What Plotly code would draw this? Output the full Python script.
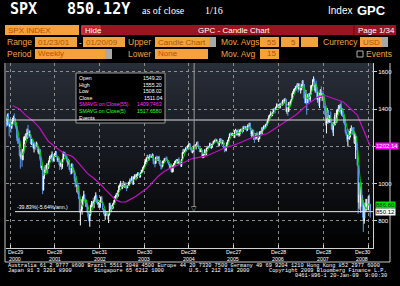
import plotly.graph_objects as go
import pandas as pd

W, H = 400, 286

# ---------------- DATA (weekly SPX) ----------------
# closes Jan 7 2000 .. Nov 24 2000 (only feed the moving averages)
hist_close = [1441.5,1465.2,1441.4,1360.2,1424.4,1387.1,1346.1,1333.4,1409.2,1395.1,1464.5,1527.5,1498.6,1516.4,1356.6,1434.5,1452.4,1432.6,1420.9,1406.9,1378.0,1477.3,1456.9,1464.5,1441.5,1454.6,1478.9,1509.9,1480.2,1419.9,1462.9,1471.8,1491.7,1506.5,1520.8,1494.5,1465.8,1449.1,1436.5,1408.9,1374.2,1396.9,1379.6,1426.7,1365.9,1367.7,1341.8]

# weekly bars Dec 1 2000 .. Jan 16 2009
close = [
 1315.2,1369.9,1312.2,1305.9,1320.3,1298.4,1318.6,1342.5,
 1354.9,1349.5,1314.8,1301.5,1245.9,1234.2,1233.4,1150.5,1139.8,1160.3,1128.4,1183.5,1243.0,1253.1,1266.6,1245.7,1292.0,1277.9,1260.7,1265.0,1214.4,1225.4,1224.4,1190.6,1215.7,1210.9,1205.8,1214.4,1190.2,1162.0,1184.9,1133.6,1085.8,1092.5,965.8,1040.9,1071.4,1091.7,1073.5,1104.6,1087.2,1120.3,1138.7,1150.3,1139.5,1158.3,1123.1,1144.9,1161.0,
 1172.5,1145.6,1127.6,1133.3,1122.2,1096.2,1104.2,1089.8,1131.8,1164.3,1166.2,1148.7,1147.4,1122.7,1111.0,1125.2,1076.3,1073.4,1055.0,1106.6,1083.8,1067.1,1027.5,1007.3,989.1,989.8,989.0,921.4,847.8,852.8,864.2,908.6,928.8,940.9,916.1,893.9,889.8,845.4,827.4,800.6,835.3,884.4,897.7,901.0,894.7,909.8,930.6,936.3,912.2,889.5,895.8,875.4,
 908.6,927.6,901.8,861.4,855.7,829.7,834.9,851.2,841.2,828.9,833.3,895.8,863.5,878.9,868.3,893.6,898.8,930.1,933.4,946.7,933.2,963.6,987.8,988.6,995.7,976.2,985.7,998.1,993.3,998.7,980.2,977.6,990.7,993.1,1008.0,1021.4,1018.6,1036.3,996.9,1029.9,1038.7,1039.3,1028.9,1050.7,1053.2,1050.4,1035.3,1058.2,1061.5,1074.1,1088.7,1095.9,
 1108.5,1121.9,1139.8,1141.6,1131.1,1142.8,1145.8,1144.1,1144.9,1156.9,1120.6,1109.8,1108.1,1141.8,1139.3,1134.6,1140.6,1107.3,1098.7,1095.7,1093.6,1120.7,1122.5,1136.5,1135.0,1134.4,1125.4,1112.8,1101.4,1086.2,1101.7,1064.0,1064.8,1098.4,1107.8,1113.6,1123.9,1128.6,1110.1,1131.5,1122.1,1108.2,1095.7,1130.2,1166.2,1184.2,1170.3,1182.7,1191.2,1188.0,1194.2,1210.1,1211.9,
 1186.2,1184.5,1167.9,1171.4,1203.0,1205.3,1201.6,1211.4,1222.1,1200.1,1189.7,1171.4,1172.9,1181.2,1142.6,1152.1,1156.9,1178.8,1154.1,1189.3,1198.8,1196.0,1198.1,1217.0,1191.6,1211.9,1211.9,1227.9,1229.0,1234.2,1226.4,1230.4,1219.7,1205.1,1218.0,1241.5,1237.9,1215.3,1228.8,1195.9,1186.6,1179.6,1198.4,1220.1,1234.7,1248.3,1268.3,1265.1,1259.4,1267.3,1268.7,1248.3,
 1285.5,1287.6,1261.5,1283.7,1264.0,1267.0,1287.2,1289.4,1287.2,1281.4,1307.3,1303.0,1294.8,1295.5,1288.1,1311.3,1310.6,1325.8,1291.2,1267.0,1280.2,1288.2,1252.3,1251.5,1244.5,1270.2,1265.5,1236.2,1240.3,1278.6,1279.4,1266.7,1302.3,1295.1,1311.0,1298.9,1319.7,1314.8,1335.9,1349.6,1365.6,1368.6,1377.3,1364.3,1380.9,1401.2,1401.0,1396.7,1409.8,1427.1,1410.8,1418.3,
 1409.7,1430.7,1430.5,1422.2,1448.4,1438.1,1455.5,1451.2,1387.2,1402.8,1387.0,1436.1,1420.9,1443.8,1452.9,1484.4,1494.1,1505.6,1505.9,1522.8,1515.7,1536.3,1507.7,1532.9,1502.6,1503.4,1530.4,1552.5,1534.1,1459.0,1433.1,1453.6,1445.9,1479.4,1474.0,1453.6,1484.3,1525.8,1526.8,1557.6,1561.8,1500.6,1535.3,1509.7,1453.7,1458.7,1440.7,1481.1,1504.7,1468.0,1484.5,1478.5,
 1411.6,1401.0,1325.2,1330.6,1395.4,1331.3,1350.0,1353.1,1330.6,1293.4,1288.1,1329.5,1315.2,1370.4,1332.8,1390.3,1397.8,1413.9,1388.3,1425.4,1375.9,1400.4,1360.7,1360.0,1317.9,1278.4,1262.9,1239.5,1260.7,1257.8,1260.3,1296.3,1298.2,1292.2,1282.8,1242.3,1251.7,1255.1,1213.3,1099.2,899.2,940.6,876.8,968.8,931.0,873.3,800.0,896.2,876.1,879.7,887.9,872.8,
 931.8,890.4,850.12]

high = [
 1355,1376,1380,1321,1335,1347,1333,1354,
 1365,1377,1351,1331,1307,1263,1248,1237,1172,1183,1169,1187,1253,1254,1269,1273,1296,1316,1280,1286,1265,1240,1236,1237,1218,1226,1214,1226,1218,1199,1187,1186,1140,1096,1093,1041,1075,1100,1097,1111,1105,1125,1149,1152,1158,1173,1159,1149,1164,
 1176,1174,1148,1141,1139,1124,1120,1109,1132,1173,1168,1172,1154,1148,1124,1133,1127,1084,1088,1107,1107,1086,1070,1035,1040,992,993,996,930,853,917,913,935,962,945,918,912,892,856,852,836,885,907,904,925,910,935,954,941,916,902,898,
 912,932,935,905,868,865,836,853,853,844,834,896,895,885,887,894,912,931,940,951,947,966,991,1002,1015,995,993,1015,1010,1000,1009,986,993,1011,1009,1029,1030,1040,1040,1039,1049,1051,1045,1054,1062,1063,1052,1061,1075,1075,1090,1097,
 1118,1131,1140,1155,1155,1143,1159,1158,1150,1163,1159,1126,1113,1145,1151,1148,1146,1150,1128,1099,1105,1123,1124,1137,1137,1146,1145,1126,1119,1108,1104,1108,1079,1101,1110,1122,1125,1131,1130,1133,1143,1125,1115,1131,1170,1185,1188,1183,1198,1194,1206,1211,1218,
 1217,1195,1195,1178,1203,1209,1212,1212,1225,1229,1206,1192,1189,1191,1182,1160,1162,1186,1180,1192,1199,1205,1201,1220,1219,1212,1212,1229,1233,1238,1245,1238,1236,1222,1228,1243,1243,1238,1234,1233,1199,1198,1199,1225,1235,1249,1269,1275,1272,1275,1272,1272,
 1287,1295,1290,1287,1295,1275,1292,1295,1297,1290,1310,1312,1310,1310,1300,1318,1316,1326,1326,1300,1286,1290,1288,1258,1261,1272,1280,1274,1245,1280,1284,1283,1302,1305,1312,1315,1321,1328,1340,1352,1366,1372,1389,1381,1384,1403,1407,1407,1415,1431,1429,1427,
 1429,1432,1437,1441,1449,1453,1457,1461,1456,1410,1410,1438,1437,1446,1453,1485,1498,1510,1514,1523,1530,1540,1540,1538,1540,1515,1534,1555,1556,1535,1488,1504,1455,1481,1486,1487,1489,1530,1531,1560,1576,1564,1536,1553,1520,1492,1462,1488,1508,1523,1485,1499,
 1478,1417,1420,1350,1406,1396,1368,1368,1388,1335,1321,1331,1359,1380,1375,1396,1400,1422,1416,1426,1441,1405,1405,1370,1370,1336,1292,1274,1263,1292,1283,1297,1313,1300,1304,1304,1274,1265,1256,1214,1100,1007,985,984,1007,940,912,897,896,919,918,895,
 934,943,891]

low = [
 1305,1313,1310,1254,1305,1274,1295,1318,
 1335,1343,1309,1294,1228,1214,1216,1148,1081,1132,1091,1126,1163,1214,1232,1240,1240,1271,1245,1253,1212,1208,1203,1188,1168,1193,1182,1200,1169,1160,1157,1124,1083,1073,944,963,1026,1057,1063,1060,1054,1080,1114,1133,1125,1136,1115,1120,1143,
 1144,1144,1117,1118,1101,1074,1091,1074,1080,1131,1150,1145,1134,1119,1092,1102,1076,1063,1048,1054,1078,1061,1012,981,986,953,944,917,846,776,848,834,893,918,910,875,874,843,817,798,769,828,873,876,882,869,903,927,896,887,871,873,
 869,900,898,860,837,826,806,828,826,807,789,830,858,847,859,864,886,898,920,925,920,930,963,982,986,971,971,984,978,977,974,960,976,988,989,1008,1009,1015,996,996,1024,1032,1018,1029,1046,1045,1031,1035,1056,1059,1066,1085,
 1095,1106,1115,1137,1122,1124,1140,1140,1138,1140,1105,1104,1088,1108,1138,1122,1122,1107,1096,1076,1080,1088,1105,1120,1124,1130,1123,1110,1100,1083,1078,1062,1060,1062,1094,1101,1110,1120,1107,1108,1121,1101,1091,1090,1127,1160,1170,1167,1172,1173,1186,1192,1204,
 1182,1174,1167,1163,1171,1198,1197,1184,1198,1199,1187,1170,1170,1172,1142,1137,1139,1156,1147,1154,1186,1190,1192,1198,1191,1188,1194,1211,1218,1226,1223,1223,1217,1204,1201,1218,1225,1205,1214,1190,1169,1176,1173,1198,1218,1230,1248,1258,1256,1257,1257,1248,
 1245,1283,1259,1260,1262,1253,1257,1285,1277,1270,1280,1298,1292,1291,1280,1284,1298,1304,1290,1256,1245,1257,1235,1219,1235,1238,1260,1235,1224,1240,1266,1262,1266,1290,1290,1294,1298,1310,1314,1331,1349,1360,1366,1360,1364,1377,1394,1377,1396,1408,1409,1406,
 1403,1404,1424,1416,1420,1437,1431,1448,1387,1374,1364,1386,1410,1419,1433,1452,1480,1482,1490,1499,1500,1514,1490,1505,1502,1484,1503,1517,1525,1458,1433,1432,1370,1432,1432,1452,1440,1478,1512,1523,1548,1500,1489,1492,1450,1435,1417,1406,1460,1462,1445,1476,
 1411,1370,1313,1270,1323,1321,1330,1326,1330,1290,1274,1256,1312,1314,1330,1325,1370,1387,1383,1386,1373,1364,1360,1326,1316,1272,1257,1225,1200,1249,1236,1248,1282,1262,1265,1217,1213,1133,1180,1097,839,866,859,845,900,818,741,785,815,850,856,858,
 857,885,818]

first_date = '2000-12-01'
start_level = 1342.0          # horizontal reference line
last_price = 850.12
sma55_tag = 1202.14
event_date = '2005-02-09'
xtick_dates = ['2000-12-29','2001-12-28','2002-12-31','2003-12-30','2004-12-28',
               '2005-12-27','2006-12-28','2007-12-28','2008-12-30']
xtick_day = ['Dec29','Dec28','Dec31','Dec30','Dec28','Dec27','Dec28','Dec28','Dec30']
xtick_year = ['2000','2001','2002','2003','2004','2005','2006','2007','2008']
ytick_vals = [800, 1000, 1200, 1400, 1600]
ytick_text = ['800', '1000', '', '1400', '1600']
legend_rows = [('Open', '1549.20', '#ffffff'), ('High', '1555.20', '#ffffff'),
               ('Low', '1508.02', '#ffffff'), ('Close', '1511.04', '#ffffff'),
               ('SMAVG on Close(55)', '1409.7463', '#ff30ff'),
               ('SMAVG on Close(5)', '1517.6580', '#30ff30'), ('Events', '', '#ffffff')]

assert len(close) == len(high) == len(low), (len(close), len(high), len(low))

dates = pd.date_range(first_date, periods=len(close), freq='W-FRI')
opens = [hist_close[-1]] + close[:-1]
full = pd.Series(hist_close + close)
n0 = len(hist_close)
sma55 = full.rolling(55).mean().iloc[n0:].values
sma5 = full.rolling(5).mean().iloc[n0:].values

def px(x): return x / W
def py(y): return 1 - y / H

shapes, ann = [], []

def rect(x0, y0, x1, y1, fill, line=None, layer='above', lw=1):
    shapes.append(dict(type='rect', xref='paper', yref='paper', x0=px(x0), x1=px(x1),
                       y0=py(y1), y1=py(y0), fillcolor=fill, layer=layer,
                       line=dict(width=lw if line else 0, color=line or fill)))

def hline(x0, x1, y, color, lw=1):
    shapes.append(dict(type='line', xref='paper', yref='paper', x0=px(x0), x1=px(x1),
                       y0=py(y), y1=py(y), line=dict(color=color, width=lw)))

def vline(x, y0, y1, color, lw=1):
    shapes.append(dict(type='line', xref='paper', yref='paper', x0=px(x), x1=px(x),
                       y0=py(y0), y1=py(y1), line=dict(color=color, width=lw)))

def txt(x, y, s, size, color, family='Liberation Sans', anchor='left'):
    ann.append(dict(x=px(x), y=py(y), xref='paper', yref='paper', text=s, showarrow=False,
                    xanchor=anchor, yanchor='middle', borderpad=0,
                    font=dict(size=size, color=color, family=family)))

ORANGE = '#f4a23a'
BOXTXT = '#b35400'
LBL = '#f0a040'
GRAYBTN = '#a8a8a8'

# ---- plot background gradient (slate to black) ----
top, bot = 63, 248
nb = 30
for i in range(nb):
    y0 = top + (bot - top) * i / nb
    y1 = top + (bot - top) * (i + 1) / nb
    f = i / (nb - 1)
    c = (int(40 * (1 - f) + 2 * f), int(46 * (1 - f) + 2 * f), int(56 * (1 - f) + 3 * f))
    rect(6, y0, 373, y1 + 0.5, 'rgb(%d,%d,%d)' % c, layer='below')

# ---- header ----
txt(9, 9, '<b>SPX</b>', 15, '#ffffff', 'DejaVu Sans Mono')
txt(66, 9, '<b>850.12Y</b>', 15, '#ffffff', 'DejaVu Sans Mono')
txt(141, 10, 'as of close', 10, '#ffffff', 'Liberation Serif')
txt(204, 10, '1/16', 10, '#ffffff', 'Liberation Serif')
txt(327, 10, 'Index', 10, '#ffffff', 'Liberation Sans')
txt(356, 10, '<b>GPC</b>', 13, '#ffffff', 'Liberation Sans')

# row 2
rect(5, 25, 79, 35, ORANGE)
txt(7, 30, 'SPX INDEX', 8, BOXTXT)
rect(81, 25, 396, 35, '#9c1422')
rect(82, 26, 100, 34, '#c4202e', '#e04050')
txt(84, 30, 'Hide', 8, '#ffffff')
txt(197, 30, 'GPC - Candle Chart', 8, '#ffffff')
vline(354, 25, 35, '#5a0a12')
txt(357, 30, 'Page 1/34', 8, '#ffffff')

# row 3
txt(6, 42, 'Range', 8.5, LBL)
rect(35, 37, 77, 47, ORANGE); txt(37, 42, '01/23/01', 8, BOXTXT)
txt(78, 42, '-', 8, '#ffffff')
rect(83, 37, 125, 47, ORANGE); txt(85, 42, '01/20/09', 8, BOXTXT)
txt(127, 42, 'Upper', 8.5, LBL)
rect(155, 37, 209, 47, ORANGE); txt(157, 42, 'Candle Chart', 8, BOXTXT)
rect(209, 37, 216, 47, GRAYBTN)
txt(220, 42, 'Mov. Avgs', 8.5, LBL)
rect(260, 37, 279, 47, ORANGE); txt(277, 42, '55', 8, BOXTXT, anchor='right')
rect(281, 37, 299, 47, ORANGE); txt(297, 42, '5', 8, BOXTXT, anchor='right')
rect(301, 37, 318, 47, ORANGE)
txt(322, 42, 'Currency', 8.5, LBL)
rect(360, 37, 382, 47, ORANGE); txt(362, 42, 'USD', 8, BOXTXT)
rect(382, 37, 388, 47, GRAYBTN)

# row 4
txt(6, 54, 'Period', 8.5, LBL)
rect(35, 49, 105, 59, ORANGE); txt(37, 54, 'Weekly', 8, BOXTXT)
rect(105, 49, 112, 59, GRAYBTN)
txt(127, 54, 'Lower', 8.5, LBL)
rect(155, 49, 208, 59, ORANGE); txt(157, 54, 'None', 8, BOXTXT)
txt(220, 54, 'Mov. Avg', 8.5, LBL)
rect(260, 49, 279, 59, ORANGE); txt(277, 54, '15', 8, BOXTXT, anchor='right')
rect(357, 51, 363, 57, '#000000', '#b0b0b0')
txt(365, 54, 'Events', 8.5, LBL)

# ---- frame lines ----
vline(5, 63, 262, '#c8c8c8')
hline(5, 390, 262, '#c8c8c8')
vline(390, 63, 262, '#c8c8c8')

# ---- legend box ----
rect(76, 73, 165, 123, '#000000', '#9a9a9a')
for i, (lab, val, col) in enumerate(legend_rows):
    yy = 78 + i * 6.6
    txt(78, yy, lab, 5.2, col)
    if val:
        txt(163, yy, val, 5.2, col, anchor='right')

# ---- data-space lines ----
shapes.append(dict(type='line', xref='paper', yref='y', x0=px(6), x1=px(373),
                   y0=start_level, y1=start_level, line=dict(color='#d8d8d8', width=1)))
shapes.append(dict(type='line', xref='paper', yref='y', x0=px(15), x1=px(373),
                   y0=last_price, y1=last_price, line=dict(color='#e8e8e8', width=1)))
shapes.append(dict(type='line', xref='x', yref='paper', x0=event_date, x1=event_date,
                   y0=py(207), y1=py(63), line=dict(color='#9a9a9a', width=1)))
ann.append(dict(x=event_date, y=py(208), xref='x', yref='paper', text='\u25bd', showarrow=False,
                font=dict(size=7, color='#c0c0c0'), yanchor='middle'))
ann.append(dict(x=px(15), y=last_price, xref='paper', yref='y', text='-39.83%(-5.64%/ann.)',
                showarrow=False, xanchor='left', yanchor='bottom', yshift=0,
                font=dict(size=5.2, color='#ffffff', family='Liberation Sans')))

# date labels under the axis (two rows)
for i, (d, a, b) in enumerate(zip(xtick_dates, xtick_day, xtick_year)):
    sh = 5 if i == 0 else (-6 if i == len(xtick_dates) - 1 else 0)
    for yy, s in ((251.5, a), (258.5, b)):
        ann.append(dict(x=d, y=py(yy), xref='x', yref='paper', text=s, showarrow=False,
                        xanchor='center', yanchor='middle', xshift=sh, borderpad=0,
                        font=dict(size=5.3, color='#ffffff', family='Liberation Sans')))

# right tags
def tag(val, text, bg, fg):
    ann.append(dict(x=px(375), y=val, xref='paper', yref='y', text=text, showarrow=False,
                    xanchor='left', yanchor='middle', bgcolor=bg, borderpad=0,
                    font=dict(size=6, color=fg, family='Liberation Sans')))
tag(sma55_tag, '%.2f' % sma55_tag, '#ff00ff', '#ffffff')
tag(sma5[-1], '%.2f' % sma5[-1], '#00dd00', '#003300')
tag(last_price, '%.2f' % last_price, '#ffffff', '#000000')

# ---- footer ----
FF = 'Liberation Mono'
FS = 5.3
txt(7, 265.5, 'Australia 61 2 9777 8600 Brazil 5511 3048 4500 Europe 44 20 7330 7500 Germany 49 69 9204 1210 Hong Kong 852 2977 6000', FS, '#ffffff', FF)
txt(7, 270.8, 'Japan 81 3 3201 8900', FS, '#ffffff', FF)
txt(93, 270.8, 'Singapore 65 6212 1000', FS, '#ffffff', FF)
txt(188, 270.8, 'U.S. 1 212 318 2000', FS, '#ffffff', FF)
txt(388, 270.8, 'Copyright 2009 Bloomberg Finance L.P.', FS, '#ffffff', FF, anchor='right')
txt(388, 276, '0461-896-1 20-Jan-09  9:00:30', FS, '#ffffff', FF, anchor='right')

fig = go.Figure()
fig.add_trace(go.Candlestick(
    x=dates, open=opens, high=high, low=low, close=close,
    increasing=dict(line=dict(color='#ffffff', width=1), fillcolor='#ffffff'),
    decreasing=dict(line=dict(color='#5a9cf0', width=1), fillcolor='#5a9cf0'),
    whiskerwidth=0, hoverinfo='skip', showlegend=False))
fig.add_trace(go.Scatter(x=dates, y=sma5, mode='lines', line=dict(color='#00d000', width=1),
                         hoverinfo='skip', showlegend=False))
fig.add_trace(go.Scatter(x=dates, y=sma55, mode='lines', line=dict(color='#c010c0', width=1.2),
                         hoverinfo='skip', showlegend=False))

fig.update_layout(
    width=W, height=H, margin=dict(l=0, r=0, t=0, b=0),
    paper_bgcolor='#000000', plot_bgcolor='rgba(0,0,0,0)',
    showlegend=False, shapes=shapes, annotations=ann,
    xaxis=dict(domain=[px(6), px(373)], type='date', range=['2000-11-26', '2009-02-08'],
               rangeslider=dict(visible=False), tickvals=xtick_dates, showticklabels=False,
               showgrid=True, gridcolor='#8c8c8c', griddash='dot', gridwidth=1,
               showline=True, linecolor='#d0d0d0', ticks='inside', ticklen=3, tickcolor='#d0d0d0',
               zeroline=False, fixedrange=True),
    yaxis=dict(domain=[py(248), py(63)], range=[655, 1648], side='right',
               tickvals=ytick_vals, ticktext=ytick_text,
               showgrid=True, gridcolor='#8c8c8c', griddash='dot', gridwidth=1,
               showline=True, linecolor='#d0d0d0', ticks='outside', ticklen=3, tickcolor='#d0d0d0',
               tickfont=dict(size=6, color='#ffffff', family='Liberation Sans'),
               zeroline=False, fixedrange=True),
)

fig.write_html('out.html')
